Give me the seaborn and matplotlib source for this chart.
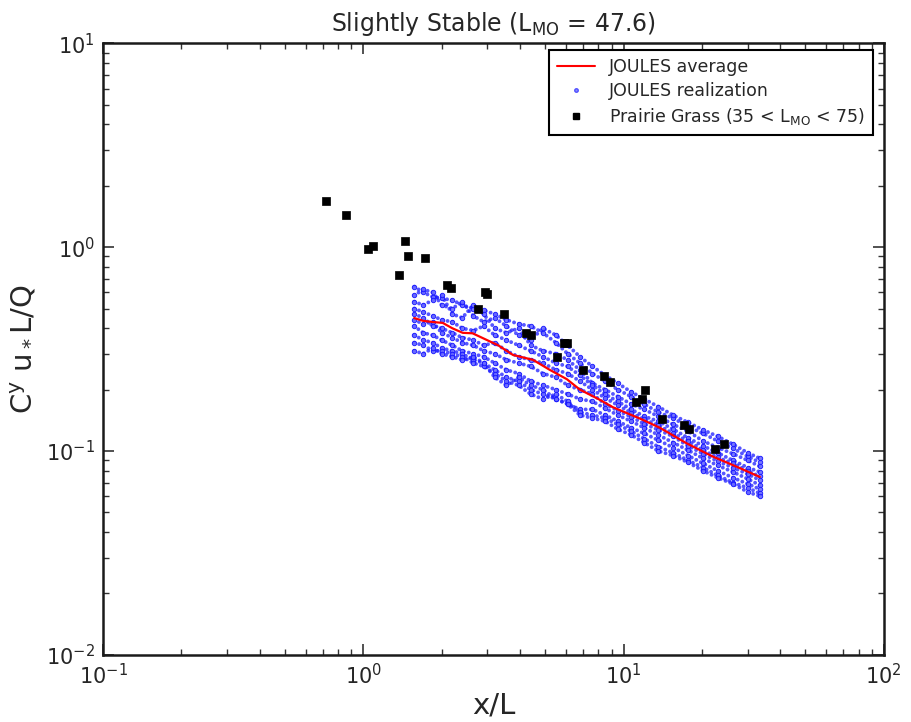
import numpy as np
import pandas as pd
import matplotlib
matplotlib.use("Agg")
import matplotlib.pyplot as plt
from matplotlib.lines import Line2D
import seaborn as sns

# ---- data ----
avg_x = [1.57, 1.70, 1.83, 2.02, 2.20, 2.41, 2.63, 2.99, 3.30, 3.76, 4.49, 5.21,
         6.06, 6.80, 8.00, 9.10, 11.6, 13.8, 17.5, 22.0, 27.3, 33.4]
avg_y = [0.449, 0.435, 0.430, 0.425, 0.400, 0.380, 0.378, 0.350, 0.330, 0.296, 0.280, 0.250,
         0.225, 0.200, 0.180, 0.164, 0.144, 0.130, 0.109, 0.094, 0.0836, 0.0746]

real_x = [1.57, 1.70, 1.85, 2.0, 2.2, 2.4, 2.65, 2.9, 3.2, 3.55, 3.95, 4.4, 4.9, 5.5,
          6.1, 6.8, 7.6, 8.5, 9.5, 10.7, 12.0, 13.6, 15.5, 17.7, 20.2, 23.0, 26.3, 30.0, 33.4]
real_1 = [0.64, 0.60, 0.57, 0.56, 0.55, 0.52, 0.50, 0.49, 0.47, 0.44, 0.42, 0.41, 0.38, 0.34,
          0.30, 0.27, 0.24, 0.22, 0.20, 0.185, 0.17, 0.155, 0.145, 0.132, 0.122, 0.112, 0.103, 0.094, 0.088]
real_2 = [0.58, 0.62, 0.60, 0.52, 0.50, 0.54, 0.46, 0.43, 0.45, 0.41, 0.37, 0.35, 0.40, 0.37,
          0.33, 0.29, 0.26, 0.235, 0.215, 0.195, 0.18, 0.165, 0.15, 0.138, 0.127, 0.118, 0.108, 0.098, 0.092]
real_3 = [0.54, 0.52, 0.55, 0.58, 0.47, 0.45, 0.52, 0.47, 0.40, 0.38, 0.40, 0.33, 0.31, 0.30,
          0.28, 0.25, 0.215, 0.20, 0.185, 0.17, 0.16, 0.148, 0.135, 0.125, 0.112, 0.104, 0.097, 0.090, 0.084]
real_4 = [0.50, 0.48, 0.46, 0.44, 0.43, 0.40, 0.39, 0.41, 0.37, 0.35, 0.33, 0.31, 0.29, 0.27,
          0.26, 0.235, 0.21, 0.19, 0.175, 0.16, 0.148, 0.14, 0.128, 0.116, 0.106, 0.098, 0.090, 0.083, 0.079]
real_5 = [0.47, 0.45, 0.41, 0.40, 0.38, 0.36, 0.35, 0.33, 0.34, 0.31, 0.29, 0.28, 0.27, 0.25,
          0.24, 0.22, 0.20, 0.182, 0.168, 0.154, 0.143, 0.134, 0.122, 0.112, 0.101, 0.093, 0.087, 0.080, 0.075]
real_6 = [0.44, 0.42, 0.43, 0.38, 0.36, 0.34, 0.33, 0.31, 0.30, 0.28, 0.27, 0.26, 0.24, 0.23,
          0.21, 0.20, 0.19, 0.17, 0.158, 0.147, 0.136, 0.127, 0.118, 0.106, 0.097, 0.089, 0.083, 0.077, 0.072]
real_7 = [0.41, 0.38, 0.37, 0.35, 0.33, 0.31, 0.30, 0.29, 0.27, 0.25, 0.24, 0.22, 0.21, 0.20,
          0.19, 0.18, 0.175, 0.162, 0.15, 0.14, 0.13, 0.12, 0.11, 0.101, 0.092, 0.085, 0.079, 0.073, 0.068]
real_8 = [0.37, 0.35, 0.34, 0.32, 0.31, 0.30, 0.28, 0.27, 0.25, 0.23, 0.22, 0.20, 0.19, 0.18,
          0.17, 0.16, 0.16, 0.15, 0.14, 0.13, 0.122, 0.113, 0.104, 0.095, 0.087, 0.080, 0.074, 0.069, 0.065]
real_9 = [0.34, 0.33, 0.31, 0.31, 0.30, 0.29, 0.27, 0.26, 0.24, 0.22, 0.21, 0.19, 0.18, 0.19,
          0.175, 0.155, 0.15, 0.145, 0.135, 0.125, 0.115, 0.105, 0.098, 0.090, 0.083, 0.076, 0.070, 0.066, 0.062]
real_10 = [0.31, 0.30, 0.32, 0.30, 0.29, 0.28, 0.29, 0.27, 0.23, 0.21, 0.23, 0.21, 0.20, 0.18,
           0.17, 0.15, 0.145, 0.14, 0.128, 0.12, 0.11, 0.10, 0.095, 0.088, 0.080, 0.074, 0.069, 0.063, 0.060]
realizations = [real_1, real_2, real_3, real_4, real_5, real_6, real_7, real_8, real_9, real_10]

pg_x = [0.72, 0.86, 1.04, 1.09, 1.37, 1.45, 1.48, 1.73, 2.10, 2.18, 2.76, 2.93, 2.98, 3.47,
        4.22, 4.40, 5.55, 5.90, 6.05, 6.98, 8.40, 8.87, 11.2, 11.8, 12.1, 14.1, 17.1, 17.8, 22.4, 24.3]
pg_y = [1.68, 1.44, 0.98, 1.01, 0.73, 1.07, 0.91, 0.88, 0.65, 0.63, 0.50, 0.60, 0.59, 0.47,
        0.38, 0.37, 0.29, 0.34, 0.34, 0.25, 0.233, 0.218, 0.174, 0.18, 0.20, 0.144, 0.134, 0.128, 0.102, 0.108]

title = r"Slightly Stable (L$_{\rm MO}$ = 47.6)"
xlabel = "x/L"
ylabel = r"C$^y$ u$_*$L/Q"
leg_labels = ["JOULES average", "JOULES realization", r"Prairie Grass (35 < L$_{\rm MO}$ < 75)"]

# ---- build frames ----
real_df = pd.DataFrame({
    "x": np.tile(real_x, len(realizations)),
    "y": np.concatenate(realizations),
    "run": np.repeat(np.arange(len(realizations)), len(real_x)),
})
avg_df = pd.DataFrame({"x": avg_x, "y": avg_y})
pg_df = pd.DataFrame({"x": pg_x, "y": pg_y})

sns.set_style("ticks")
plt.rcParams["font.family"] = ["DejaVu Sans"]
plt.rcParams["mathtext.default"] = "regular"

fig = plt.figure(figsize=(9.12, 7.22), dpi=100)
ax = fig.add_axes([0.113, 0.093, 0.856, 0.847])

# realizations as dense dotted traces plus markers
for r, g in real_df.groupby("run"):
    ax.plot(g["x"], g["y"], color="#1e1eff", lw=2.8, alpha=0.75,
            linestyle=(0, (0.01, 1.3)), dash_capstyle="round", zorder=2)
sns.scatterplot(data=real_df, x="x", y="y", ax=ax, s=10, marker="o",
                color="#6a6aff", edgecolor="#1414ff", linewidth=0.7, alpha=0.9,
                legend=False, zorder=2)
sns.lineplot(data=avg_df, x="x", y="y", ax=ax, color="red", lw=1.6,
             estimator=None, sort=False, legend=False, zorder=3)
sns.scatterplot(data=pg_df, x="x", y="y", ax=ax, marker="s", s=30, color="black",
                edgecolor="black", linewidth=0.5, legend=False, zorder=4)

ax.set_xscale("log")
ax.set_yscale("log")
ax.set_xlim(0.1, 100)
ax.set_ylim(0.01, 10)
ax.set_title(title, fontsize=17, pad=9)
ax.set_xlabel(xlabel, fontsize=21, labelpad=2)
ax.set_ylabel(ylabel, fontsize=21, labelpad=6)

for s in ax.spines.values():
    s.set_linewidth(1.8)
    s.set_color("#1a1a1a")
ax.tick_params(which="both", direction="in", top=True, right=True, color="#333333")
ax.tick_params(which="major", length=8, width=1.2, labelsize=15, pad=6)
ax.tick_params(which="minor", length=4, width=1.0)

handles = [
    Line2D([], [], color="red", lw=1.5),
    Line2D([], [], color="#8c8cff", marker="o", markersize=2.5, lw=0,
           markeredgecolor="#5050ff"),
    Line2D([], [], color="black", marker="s", markersize=5, lw=0),
]
leg = ax.legend(handles, leg_labels, loc="upper right", fontsize=12.5,
                frameon=True, fancybox=False, framealpha=1, edgecolor="black",
                borderpad=0.45, labelspacing=0.35, handlelength=2.2,
                bbox_to_anchor=(0.997, 1.003))
leg.get_frame().set_linewidth(1.5)

fig.savefig("out.png", dpi=100)
